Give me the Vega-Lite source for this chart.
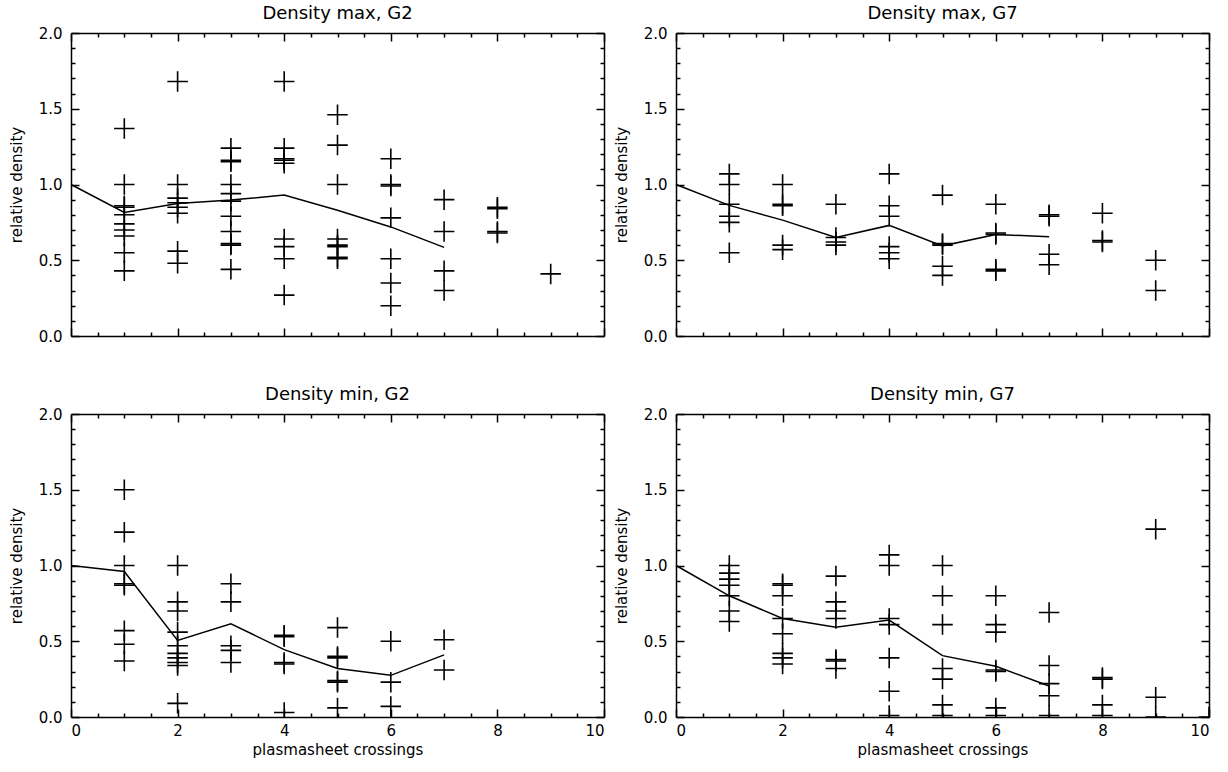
{
 "$schema": "https://vega.github.io/schema/vega-lite/v6.json",
 "background": "white",
 "padding": {"left": 9, "right": 5, "top": 5, "bottom": 5},
 "config": {
  "font": "DejaVu Sans",
  "view": {"stroke": null},
  "title": {"fontSize": 18, "fontWeight": "normal", "offset": 3, "color": "black", "font": "DejaVu Sans"},
  "axis": {"domainColor": "black", "domainWidth": 1.5, "tickColor": "black", "tickWidth": 1.5, "labelColor": "black", "titleColor": "black", "labelFontSize": 15, "titleFontSize": 15, "titleFontWeight": "normal", "grid": false, "labelFont": "DejaVu Sans", "titleFont": "DejaVu Sans"}
 },
 "datasets": {
  "points": [
   {"panel":"maxG2","x":1,"y":1.37},{"panel":"maxG2","x":1,"y":1.0},{"panel":"maxG2","x":1,"y":0.86},{"panel":"maxG2","x":1,"y":0.85},{"panel":"maxG2","x":1,"y":0.8},{"panel":"maxG2","x":1,"y":0.74},{"panel":"maxG2","x":1,"y":0.7},{"panel":"maxG2","x":1,"y":0.66},{"panel":"maxG2","x":1,"y":0.55},{"panel":"maxG2","x":1,"y":0.43},
   {"panel":"maxG2","x":2,"y":1.68},{"panel":"maxG2","x":2,"y":1.0},{"panel":"maxG2","x":2,"y":0.91},{"panel":"maxG2","x":2,"y":0.88},{"panel":"maxG2","x":2,"y":0.85},{"panel":"maxG2","x":2,"y":0.81},{"panel":"maxG2","x":2,"y":0.56},{"panel":"maxG2","x":2,"y":0.48},
   {"panel":"maxG2","x":3,"y":1.24},{"panel":"maxG2","x":3,"y":1.16},{"panel":"maxG2","x":3,"y":1.15},{"panel":"maxG2","x":3,"y":1.0},{"panel":"maxG2","x":3,"y":0.94},{"panel":"maxG2","x":3,"y":0.89},{"panel":"maxG2","x":3,"y":0.79},{"panel":"maxG2","x":3,"y":0.69},{"panel":"maxG2","x":3,"y":0.61},{"panel":"maxG2","x":3,"y":0.6},{"panel":"maxG2","x":3,"y":0.44},
   {"panel":"maxG2","x":4,"y":1.68},{"panel":"maxG2","x":4,"y":1.24},{"panel":"maxG2","x":4,"y":1.17},{"panel":"maxG2","x":4,"y":1.16},{"panel":"maxG2","x":4,"y":1.14},{"panel":"maxG2","x":4,"y":0.64},{"panel":"maxG2","x":4,"y":0.59},{"panel":"maxG2","x":4,"y":0.51},{"panel":"maxG2","x":4,"y":0.27},
   {"panel":"maxG2","x":5,"y":1.46},{"panel":"maxG2","x":5,"y":1.26},{"panel":"maxG2","x":5,"y":1.0},{"panel":"maxG2","x":5,"y":0.64},{"panel":"maxG2","x":5,"y":0.6},{"panel":"maxG2","x":5,"y":0.59},{"panel":"maxG2","x":5,"y":0.52},{"panel":"maxG2","x":5,"y":0.51},
   {"panel":"maxG2","x":6,"y":1.17},{"panel":"maxG2","x":6,"y":1.0},{"panel":"maxG2","x":6,"y":0.99},{"panel":"maxG2","x":6,"y":0.78},{"panel":"maxG2","x":6,"y":0.51},{"panel":"maxG2","x":6,"y":0.35},{"panel":"maxG2","x":6,"y":0.2},
   {"panel":"maxG2","x":7,"y":0.9},{"panel":"maxG2","x":7,"y":0.69},{"panel":"maxG2","x":7,"y":0.43},{"panel":"maxG2","x":7,"y":0.3},
   {"panel":"maxG2","x":8,"y":0.85},{"panel":"maxG2","x":8,"y":0.84},{"panel":"maxG2","x":8,"y":0.69},{"panel":"maxG2","x":8,"y":0.68},
   {"panel":"maxG2","x":9,"y":0.41},

   {"panel":"maxG7","x":1,"y":1.07},{"panel":"maxG7","x":1,"y":1.0},{"panel":"maxG7","x":1,"y":0.87},{"panel":"maxG7","x":1,"y":0.79},{"panel":"maxG7","x":1,"y":0.75},{"panel":"maxG7","x":1,"y":0.55},
   {"panel":"maxG7","x":2,"y":1.0},{"panel":"maxG7","x":2,"y":0.87},{"panel":"maxG7","x":2,"y":0.86},{"panel":"maxG7","x":2,"y":0.6},{"panel":"maxG7","x":2,"y":0.57},
   {"panel":"maxG7","x":3,"y":0.87},{"panel":"maxG7","x":3,"y":0.65},{"panel":"maxG7","x":3,"y":0.62},{"panel":"maxG7","x":3,"y":0.6},
   {"panel":"maxG7","x":4,"y":1.07},{"panel":"maxG7","x":4,"y":0.86},{"panel":"maxG7","x":4,"y":0.79},{"panel":"maxG7","x":4,"y":0.59},{"panel":"maxG7","x":4,"y":0.55},{"panel":"maxG7","x":4,"y":0.51},
   {"panel":"maxG7","x":5,"y":0.93},{"panel":"maxG7","x":5,"y":0.61},{"panel":"maxG7","x":5,"y":0.6},{"panel":"maxG7","x":5,"y":0.46},{"panel":"maxG7","x":5,"y":0.4},
   {"panel":"maxG7","x":6,"y":0.87},{"panel":"maxG7","x":6,"y":0.68},{"panel":"maxG7","x":6,"y":0.67},{"panel":"maxG7","x":6,"y":0.44},{"panel":"maxG7","x":6,"y":0.43},
   {"panel":"maxG7","x":7,"y":0.8},{"panel":"maxG7","x":7,"y":0.79},{"panel":"maxG7","x":7,"y":0.54},{"panel":"maxG7","x":7,"y":0.47},
   {"panel":"maxG7","x":8,"y":0.81},{"panel":"maxG7","x":8,"y":0.63},{"panel":"maxG7","x":8,"y":0.62},
   {"panel":"maxG7","x":9,"y":0.5},{"panel":"maxG7","x":9,"y":0.3},

   {"panel":"minG2","x":1,"y":1.5},{"panel":"minG2","x":1,"y":1.22},{"panel":"minG2","x":1,"y":1.0},{"panel":"minG2","x":1,"y":0.88},{"panel":"minG2","x":1,"y":0.87},{"panel":"minG2","x":1,"y":0.57},{"panel":"minG2","x":1,"y":0.48},{"panel":"minG2","x":1,"y":0.37},
   {"panel":"minG2","x":2,"y":1.0},{"panel":"minG2","x":2,"y":0.76},{"panel":"minG2","x":2,"y":0.7},{"panel":"minG2","x":2,"y":0.56},{"panel":"minG2","x":2,"y":0.47},{"panel":"minG2","x":2,"y":0.42},{"panel":"minG2","x":2,"y":0.39},{"panel":"minG2","x":2,"y":0.36},{"panel":"minG2","x":2,"y":0.34},{"panel":"minG2","x":2,"y":0.09},
   {"panel":"minG2","x":3,"y":0.88},{"panel":"minG2","x":3,"y":0.76},{"panel":"minG2","x":3,"y":0.47},{"panel":"minG2","x":3,"y":0.44},{"panel":"minG2","x":3,"y":0.36},
   {"panel":"minG2","x":4,"y":0.54},{"panel":"minG2","x":4,"y":0.53},{"panel":"minG2","x":4,"y":0.36},{"panel":"minG2","x":4,"y":0.35},{"panel":"minG2","x":4,"y":0.03},
   {"panel":"minG2","x":5,"y":0.59},{"panel":"minG2","x":5,"y":0.4},{"panel":"minG2","x":5,"y":0.39},{"panel":"minG2","x":5,"y":0.24},{"panel":"minG2","x":5,"y":0.23},{"panel":"minG2","x":5,"y":0.06},
   {"panel":"minG2","x":6,"y":0.5},{"panel":"minG2","x":6,"y":0.23},{"panel":"minG2","x":6,"y":0.07},
   {"panel":"minG2","x":7,"y":0.51},{"panel":"minG2","x":7,"y":0.31},

   {"panel":"minG7","x":1,"y":1.0},{"panel":"minG7","x":1,"y":0.95},{"panel":"minG7","x":1,"y":0.91},{"panel":"minG7","x":1,"y":0.87},{"panel":"minG7","x":1,"y":0.8},{"panel":"minG7","x":1,"y":0.7},{"panel":"minG7","x":1,"y":0.63},
   {"panel":"minG7","x":2,"y":0.88},{"panel":"minG7","x":2,"y":0.87},{"panel":"minG7","x":2,"y":0.8},{"panel":"minG7","x":2,"y":0.65},{"panel":"minG7","x":2,"y":0.55},{"panel":"minG7","x":2,"y":0.42},{"panel":"minG7","x":2,"y":0.39},{"panel":"minG7","x":2,"y":0.35},
   {"panel":"minG7","x":3,"y":0.93},{"panel":"minG7","x":3,"y":0.76},{"panel":"minG7","x":3,"y":0.7},{"panel":"minG7","x":3,"y":0.65},{"panel":"minG7","x":3,"y":0.38},{"panel":"minG7","x":3,"y":0.37},{"panel":"minG7","x":3,"y":0.32},
   {"panel":"minG7","x":4,"y":1.07},{"panel":"minG7","x":4,"y":1.0},{"panel":"minG7","x":4,"y":0.65},{"panel":"minG7","x":4,"y":0.61},{"panel":"minG7","x":4,"y":0.39},{"panel":"minG7","x":4,"y":0.17},{"panel":"minG7","x":4,"y":0.01},
   {"panel":"minG7","x":5,"y":1.0},{"panel":"minG7","x":5,"y":0.8},{"panel":"minG7","x":5,"y":0.61},{"panel":"minG7","x":5,"y":0.32},{"panel":"minG7","x":5,"y":0.25},{"panel":"minG7","x":5,"y":0.08},{"panel":"minG7","x":5,"y":0.01},
   {"panel":"minG7","x":6,"y":0.8},{"panel":"minG7","x":6,"y":0.61},{"panel":"minG7","x":6,"y":0.56},{"panel":"minG7","x":6,"y":0.31},{"panel":"minG7","x":6,"y":0.3},{"panel":"minG7","x":6,"y":0.06},{"panel":"minG7","x":6,"y":0.01},
   {"panel":"minG7","x":7,"y":0.69},{"panel":"minG7","x":7,"y":0.34},{"panel":"minG7","x":7,"y":0.22},{"panel":"minG7","x":7,"y":0.14},{"panel":"minG7","x":7,"y":0.01},
   {"panel":"minG7","x":8,"y":0.26},{"panel":"minG7","x":8,"y":0.25},{"panel":"minG7","x":8,"y":0.08},{"panel":"minG7","x":8,"y":0.01},
   {"panel":"minG7","x":9,"y":1.24},{"panel":"minG7","x":9,"y":0.13},{"panel":"minG7","x":9,"y":0.0},
   {"panel":"minG7","x":10,"y":0.0}
  ],
  "means": [
   {"panel":"maxG2","x":0,"y":1.0},{"panel":"maxG2","x":1,"y":0.815},{"panel":"maxG2","x":2,"y":0.875},{"panel":"maxG2","x":3,"y":0.897},{"panel":"maxG2","x":4,"y":0.93},{"panel":"maxG2","x":5,"y":0.83},{"panel":"maxG2","x":6,"y":0.72},{"panel":"maxG2","x":7,"y":0.585},
   {"panel":"maxG7","x":0,"y":1.0},{"panel":"maxG7","x":1,"y":0.862},{"panel":"maxG7","x":2,"y":0.765},{"panel":"maxG7","x":3,"y":0.65},{"panel":"maxG7","x":4,"y":0.73},{"panel":"maxG7","x":5,"y":0.595},{"panel":"maxG7","x":6,"y":0.67},{"panel":"maxG7","x":7,"y":0.655},
   {"panel":"minG2","x":0,"y":1.0},{"panel":"minG2","x":1,"y":0.96},{"panel":"minG2","x":2,"y":0.505},{"panel":"minG2","x":3,"y":0.615},{"panel":"minG2","x":4,"y":0.445},{"panel":"minG2","x":5,"y":0.32},{"panel":"minG2","x":6,"y":0.275},{"panel":"minG2","x":7,"y":0.41},
   {"panel":"minG7","x":0,"y":1.0},{"panel":"minG7","x":1,"y":0.8},{"panel":"minG7","x":2,"y":0.65},{"panel":"minG7","x":3,"y":0.593},{"panel":"minG7","x":4,"y":0.64},{"panel":"minG7","x":5,"y":0.405},{"panel":"minG7","x":6,"y":0.335},{"panel":"minG7","x":7,"y":0.205}
  ]
 },
 "columns": 2,
 "spacing": {"row": 42, "column": 9},
 "concat": [
  {
   "title": "Density max, G2", "width": 533, "height": 303,
   "layer": [
    {"data": {"name": "means"}, "transform": [{"filter": "datum.panel === 'maxG2'"}],
     "mark": {"type": "line", "color": "black", "strokeWidth": 1.5},
     "encoding": {
      "x": {"field": "x", "type": "quantitative", "scale": {"domain": [0, 10], "nice": false}, "axis": {"orient": "bottom", "values": [0,2,4,6,8,10], "tickSize": -8, "labels": false, "title": null}},
      "y": {"field": "y", "type": "quantitative", "scale": {"domain": [0, 2], "nice": false}, "axis": {"orient": "left", "values": [0,0.5,1,1.5,2], "format": ".1f", "tickSize": -8, "labelPadding": 17, "title": "relative density", "titlePadding": 14}}
     }},
    {"data": {"name": "points"}, "transform": [{"filter": "datum.panel === 'maxG2'"}],
     "mark": {"type": "point", "shape": "M-1,0L1,0M0,-1L0,1", "filled": false, "color": "black", "strokeWidth": 1.6, "size": 420, "opacity": 1, "clip": true},
     "encoding": {
      "x": {"field": "x", "type": "quantitative", "axis": {"orient": "top", "values": [0,2,4,6,8,10], "tickSize": -8, "labels": false, "title": null}},
      "y": {"field": "y", "type": "quantitative", "axis": {"orient": "right", "values": [0,0.5,1,1.5,2], "tickSize": -8, "labels": false, "title": null}}
     }},
    {"data": {"name": "means"}, "transform": [{"filter": "datum.panel === 'maxG2'"}],
     "mark": {"type": "point", "opacity": 0},
     "encoding": {
      "x": {"field": "x", "type": "quantitative", "axis": {"orient": "bottom", "values": [0.5,1,1.5,2.5,3,3.5,4.5,5,5.5,6.5,7,7.5,8.5,9,9.5], "tickSize": -4, "labels": false, "domain": false, "title": null}},
      "y": {"field": "y", "type": "quantitative", "axis": {"orient": "left", "values": [0.1,0.2,0.3,0.4,0.6,0.7,0.8,0.9,1.1,1.2,1.3,1.4,1.6,1.7,1.8,1.9], "tickSize": -4, "labels": false, "domain": false, "title": null}}
     }},
    {"data": {"name": "means"}, "transform": [{"filter": "datum.panel === 'maxG2'"}],
     "mark": {"type": "point", "opacity": 0},
     "encoding": {
      "x": {"field": "x", "type": "quantitative", "axis": {"orient": "top", "values": [0.5,1,1.5,2.5,3,3.5,4.5,5,5.5,6.5,7,7.5,8.5,9,9.5], "tickSize": -4, "labels": false, "domain": false, "title": null}},
      "y": {"field": "y", "type": "quantitative", "axis": {"orient": "right", "values": [0.1,0.2,0.3,0.4,0.6,0.7,0.8,0.9,1.1,1.2,1.3,1.4,1.6,1.7,1.8,1.9], "tickSize": -4, "labels": false, "domain": false, "title": null}}
     }}
   ],
   "resolve": {"axis": {"x": "independent", "y": "independent"}}
  },
  {
   "title": "Density max, G7", "width": 533, "height": 303,
   "layer": [
    {"data": {"name": "means"}, "transform": [{"filter": "datum.panel === 'maxG7'"}],
     "mark": {"type": "line", "color": "black", "strokeWidth": 1.5},
     "encoding": {
      "x": {"field": "x", "type": "quantitative", "scale": {"domain": [0, 10], "nice": false}, "axis": {"orient": "bottom", "values": [0,2,4,6,8,10], "tickSize": -8, "labels": false, "title": null}},
      "y": {"field": "y", "type": "quantitative", "scale": {"domain": [0, 2], "nice": false}, "axis": {"orient": "left", "values": [0,0.5,1,1.5,2], "format": ".1f", "tickSize": -8, "labelPadding": 17, "title": "relative density", "titlePadding": 14}}
     }},
    {"data": {"name": "points"}, "transform": [{"filter": "datum.panel === 'maxG7'"}],
     "mark": {"type": "point", "shape": "M-1,0L1,0M0,-1L0,1", "filled": false, "color": "black", "strokeWidth": 1.6, "size": 420, "opacity": 1, "clip": true},
     "encoding": {
      "x": {"field": "x", "type": "quantitative", "axis": {"orient": "top", "values": [0,2,4,6,8,10], "tickSize": -8, "labels": false, "title": null}},
      "y": {"field": "y", "type": "quantitative", "axis": {"orient": "right", "values": [0,0.5,1,1.5,2], "tickSize": -8, "labels": false, "title": null}}
     }},
    {"data": {"name": "means"}, "transform": [{"filter": "datum.panel === 'maxG7'"}],
     "mark": {"type": "point", "opacity": 0},
     "encoding": {
      "x": {"field": "x", "type": "quantitative", "axis": {"orient": "bottom", "values": [0.5,1,1.5,2.5,3,3.5,4.5,5,5.5,6.5,7,7.5,8.5,9,9.5], "tickSize": -4, "labels": false, "domain": false, "title": null}},
      "y": {"field": "y", "type": "quantitative", "axis": {"orient": "left", "values": [0.1,0.2,0.3,0.4,0.6,0.7,0.8,0.9,1.1,1.2,1.3,1.4,1.6,1.7,1.8,1.9], "tickSize": -4, "labels": false, "domain": false, "title": null}}
     }},
    {"data": {"name": "means"}, "transform": [{"filter": "datum.panel === 'maxG7'"}],
     "mark": {"type": "point", "opacity": 0},
     "encoding": {
      "x": {"field": "x", "type": "quantitative", "axis": {"orient": "top", "values": [0.5,1,1.5,2.5,3,3.5,4.5,5,5.5,6.5,7,7.5,8.5,9,9.5], "tickSize": -4, "labels": false, "domain": false, "title": null}},
      "y": {"field": "y", "type": "quantitative", "axis": {"orient": "right", "values": [0.1,0.2,0.3,0.4,0.6,0.7,0.8,0.9,1.1,1.2,1.3,1.4,1.6,1.7,1.8,1.9], "tickSize": -4, "labels": false, "domain": false, "title": null}}
     }}
   ],
   "resolve": {"axis": {"x": "independent", "y": "independent"}}
  },
  {
   "title": "Density min, G2", "width": 533, "height": 303,
   "layer": [
    {"data": {"name": "means"}, "transform": [{"filter": "datum.panel === 'minG2'"}],
     "mark": {"type": "line", "color": "black", "strokeWidth": 1.5},
     "encoding": {
      "x": {"field": "x", "type": "quantitative", "scale": {"domain": [0, 10], "nice": false}, "axis": {"orient": "bottom", "values": [0,2,4,6,8,10], "format": "d", "tickSize": -8, "labelPadding": 14, "title": "plasmasheet crossings", "titlePadding": 4}},
      "y": {"field": "y", "type": "quantitative", "scale": {"domain": [0, 2], "nice": false}, "axis": {"orient": "left", "values": [0,0.5,1,1.5,2], "format": ".1f", "tickSize": -8, "labelPadding": 17, "title": "relative density", "titlePadding": 14}}
     }},
    {"data": {"name": "points"}, "transform": [{"filter": "datum.panel === 'minG2'"}],
     "mark": {"type": "point", "shape": "M-1,0L1,0M0,-1L0,1", "filled": false, "color": "black", "strokeWidth": 1.6, "size": 420, "opacity": 1, "clip": true},
     "encoding": {
      "x": {"field": "x", "type": "quantitative", "axis": {"orient": "top", "values": [0,2,4,6,8,10], "tickSize": -8, "labels": false, "title": null}},
      "y": {"field": "y", "type": "quantitative", "axis": {"orient": "right", "values": [0,0.5,1,1.5,2], "tickSize": -8, "labels": false, "title": null}}
     }},
    {"data": {"name": "means"}, "transform": [{"filter": "datum.panel === 'minG2'"}],
     "mark": {"type": "point", "opacity": 0},
     "encoding": {
      "x": {"field": "x", "type": "quantitative", "axis": {"orient": "bottom", "values": [0.5,1,1.5,2.5,3,3.5,4.5,5,5.5,6.5,7,7.5,8.5,9,9.5], "tickSize": -4, "labels": false, "domain": false, "title": null}},
      "y": {"field": "y", "type": "quantitative", "axis": {"orient": "left", "values": [0.1,0.2,0.3,0.4,0.6,0.7,0.8,0.9,1.1,1.2,1.3,1.4,1.6,1.7,1.8,1.9], "tickSize": -4, "labels": false, "domain": false, "title": null}}
     }},
    {"data": {"name": "means"}, "transform": [{"filter": "datum.panel === 'minG2'"}],
     "mark": {"type": "point", "opacity": 0},
     "encoding": {
      "x": {"field": "x", "type": "quantitative", "axis": {"orient": "top", "values": [0.5,1,1.5,2.5,3,3.5,4.5,5,5.5,6.5,7,7.5,8.5,9,9.5], "tickSize": -4, "labels": false, "domain": false, "title": null}},
      "y": {"field": "y", "type": "quantitative", "axis": {"orient": "right", "values": [0.1,0.2,0.3,0.4,0.6,0.7,0.8,0.9,1.1,1.2,1.3,1.4,1.6,1.7,1.8,1.9], "tickSize": -4, "labels": false, "domain": false, "title": null}}
     }}
   ],
   "resolve": {"axis": {"x": "independent", "y": "independent"}}
  },
  {
   "title": "Density min, G7", "width": 533, "height": 303,
   "layer": [
    {"data": {"name": "means"}, "transform": [{"filter": "datum.panel === 'minG7'"}],
     "mark": {"type": "line", "color": "black", "strokeWidth": 1.5},
     "encoding": {
      "x": {"field": "x", "type": "quantitative", "scale": {"domain": [0, 10], "nice": false}, "axis": {"orient": "bottom", "values": [0,2,4,6,8,10], "format": "d", "tickSize": -8, "labelPadding": 14, "title": "plasmasheet crossings", "titlePadding": 4}},
      "y": {"field": "y", "type": "quantitative", "scale": {"domain": [0, 2], "nice": false}, "axis": {"orient": "left", "values": [0,0.5,1,1.5,2], "format": ".1f", "tickSize": -8, "labelPadding": 17, "title": "relative density", "titlePadding": 14}}
     }},
    {"data": {"name": "points"}, "transform": [{"filter": "datum.panel === 'minG7'"}],
     "mark": {"type": "point", "shape": "M-1,0L1,0M0,-1L0,1", "filled": false, "color": "black", "strokeWidth": 1.6, "size": 420, "opacity": 1, "clip": true},
     "encoding": {
      "x": {"field": "x", "type": "quantitative", "axis": {"orient": "top", "values": [0,2,4,6,8,10], "tickSize": -8, "labels": false, "title": null}},
      "y": {"field": "y", "type": "quantitative", "axis": {"orient": "right", "values": [0,0.5,1,1.5,2], "tickSize": -8, "labels": false, "title": null}}
     }},
    {"data": {"name": "means"}, "transform": [{"filter": "datum.panel === 'minG7'"}],
     "mark": {"type": "point", "opacity": 0},
     "encoding": {
      "x": {"field": "x", "type": "quantitative", "axis": {"orient": "bottom", "values": [0.5,1,1.5,2.5,3,3.5,4.5,5,5.5,6.5,7,7.5,8.5,9,9.5], "tickSize": -4, "labels": false, "domain": false, "title": null}},
      "y": {"field": "y", "type": "quantitative", "axis": {"orient": "left", "values": [0.1,0.2,0.3,0.4,0.6,0.7,0.8,0.9,1.1,1.2,1.3,1.4,1.6,1.7,1.8,1.9], "tickSize": -4, "labels": false, "domain": false, "title": null}}
     }},
    {"data": {"name": "means"}, "transform": [{"filter": "datum.panel === 'minG7'"}],
     "mark": {"type": "point", "opacity": 0},
     "encoding": {
      "x": {"field": "x", "type": "quantitative", "axis": {"orient": "top", "values": [0.5,1,1.5,2.5,3,3.5,4.5,5,5.5,6.5,7,7.5,8.5,9,9.5], "tickSize": -4, "labels": false, "domain": false, "title": null}},
      "y": {"field": "y", "type": "quantitative", "axis": {"orient": "right", "values": [0.1,0.2,0.3,0.4,0.6,0.7,0.8,0.9,1.1,1.2,1.3,1.4,1.6,1.7,1.8,1.9], "tickSize": -4, "labels": false, "domain": false, "title": null}}
     }}
   ],
   "resolve": {"axis": {"x": "independent", "y": "independent"}}
  }
 ]
}
